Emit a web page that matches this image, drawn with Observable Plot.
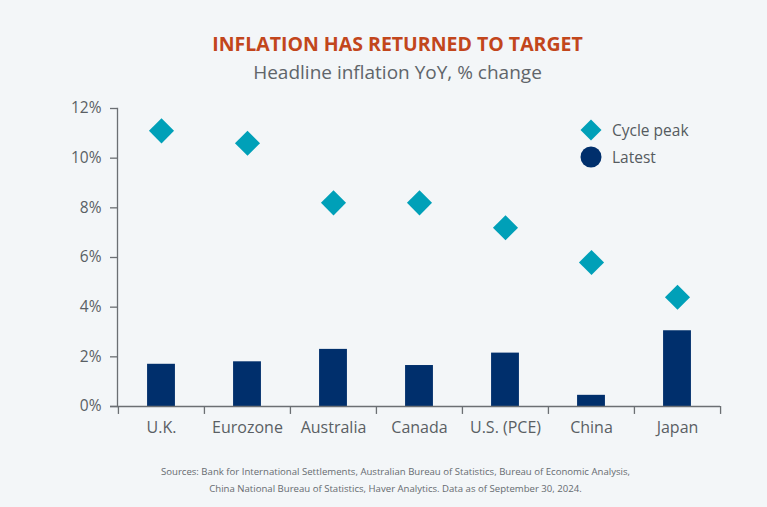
<!DOCTYPE html>
<html>
<head>
<meta charset="utf-8">
<script src="https://cdn.jsdelivr.net/npm/d3@7"></script>
<script src="https://cdn.jsdelivr.net/npm/@observablehq/plot@0.6"></script>
<style>
  html, body { margin: 0; padding: 0; background: #f3f6f8; }
  body { width: 767px; height: 507px; position: relative; overflow: hidden; font-family: "Open Sans", sans-serif; }
  #title { position: absolute; top: 30px; left: 14px; width: 767px; text-align: center; color: #c2461c; font-weight: 700; font-size: 19.5px; }
  #subtitle { position: absolute; top: 59px; left: 14px; width: 767px; text-align: center; color: #60656a; font-size: 19px; }
  #chart { position: absolute; top: 95px; left: 0; }
  #legend { position: absolute; left: 580px; top: 116px; color: #555b60; font-size: 15.5px; }
  .li { display: flex; align-items: center; height: 27px; }
  .li svg { margin-right: 10px; }
  #caption { position: absolute; top: 463px; left: 12px; width: 767px; text-align: center; color: #666b70; font-size: 9.6px; line-height: 17px; }
</style>
</head>
<body>
<div id="title">INFLATION HAS RETURNED TO TARGET</div>
<div id="subtitle">Headline inflation YoY, % change</div>
<div id="chart"></div>
<div id="legend">
  <div class="li"><svg width="22" height="22"><path d="M11,0.5L21.5,11L11,21.5L0.5,11Z" fill="#00a0b8"/></svg><span>Cycle peak</span></div>
  <div class="li"><svg width="22" height="22"><circle cx="11" cy="11" r="10.5" fill="#002f6c"/></svg><span>Latest</span></div>
</div>
<div id="caption">Sources: Bank for International Settlements, Australian Bureau of Statistics, Bureau of Economic Analysis,<br>China National Bureau of Statistics, Haver Analytics. Data as of September 30, 2024.</div>
<script>
const categories = ["U.K.", "Eurozone", "Australia", "Canada", "U.S. (PCE)", "China", "Japan"];
const cyclePeak = [11.1, 10.6, 8.2, 8.2, 7.2, 5.8, 4.4];
const latest = [1.7, 1.8, 2.3, 1.65, 2.15, 0.45, 3.05];
const yTicks = [0, 2, 4, 6, 8, 10, 12];

const data = categories.map((c, i) => ({country: c, peak: cyclePeak[i], latest: latest[i]}));

const W = 767, H = 345, mL = 117, mR = 47;
const bw = (W - mL - mR) / categories.length;
const barW = 28;
const axisColor = "#6b6f73";
const textColor = "#5a5f64";

const chart = Plot.plot({
  width: W, height: H,
  marginLeft: mL, marginRight: mR, marginTop: 13, marginBottom: 34,
  style: {background: "transparent", fontFamily: "Open Sans, sans-serif"},
  x: {domain: categories, paddingInner: 0, paddingOuter: 0, axis: null},
  y: {domain: [0, 12], axis: null},
  marks: [
    Plot.frame({anchor: "left", stroke: axisColor, strokeWidth: 1.3}),
    Plot.axisY({ticks: yTicks, tickFormat: d => d + "%", tickSize: 7, tickPadding: 9,
      stroke: axisColor, strokeWidth: 1.3, fill: textColor, fontSize: 15.5}),
    Plot.barY(data, {x: "country", y: "latest", fill: "#002f6c",
      insetLeft: (bw - barW) / 2, insetRight: (bw - barW) / 2}),
    Plot.ruleY([0], {stroke: axisColor, strokeWidth: 1.5, insetLeft: -7}),
    Plot.ruleX(data, {x: "country", dx: -bw / 2, y1: 0, y2: -0.32, stroke: axisColor, strokeWidth: 1.3, clip: false}),
    Plot.ruleX(data.slice(-1), {x: "country", dx: bw / 2, y1: 0, y2: -0.32, stroke: axisColor, strokeWidth: 1.3, clip: false}),
    Plot.text(data, {x: "country", y: 0, text: "country", dy: 21, fill: textColor, fontSize: 16, lineAnchor: "middle"}),
    Plot.dot(data, {x: "country", y: "peak", symbol: "diamond2", r: 11.3, fill: "#00a0b8", stroke: null})
  ]
});
document.getElementById("chart").appendChild(chart);
</script>
</body>
</html>
